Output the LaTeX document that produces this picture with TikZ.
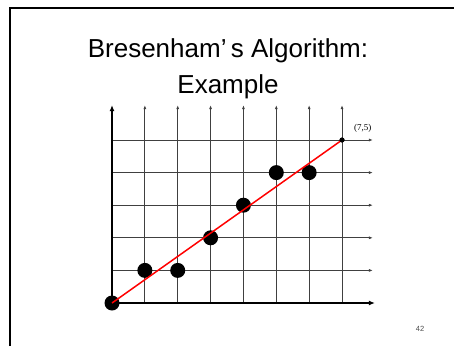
\documentclass[tikz,border=0pt]{standalone}
\usepackage{fontspec}
\setmainfont{Liberation Serif}
\setsansfont{Liberation Sans}
\usetikzlibrary{arrows.meta, positioning}

\begin{document}
\begin{tikzpicture}[
    x=1pt, y=1pt,
    gridline/.style={draw=black!75, line width=0.9pt, -{Latex[length=4pt, width=3pt]}},
    axisline/.style={draw=black, line width=1.6pt, -{Latex[length=6pt, width=5pt]}},
    pixel/.style={circle, fill=black, inner sep=0pt, minimum size=15pt},
    endpt/.style={circle, fill=black, inner sep=0pt, minimum size=5pt},
    ideal/.style={red, line width=1.5pt},
    heading/.style={font=\sffamily\fontsize{26}{30}\selectfont, anchor=base}
]
\useasboundingbox (0,0) rectangle (454,346);

% Frame
\draw[line width=2pt] (10,0) -- (10,337.5) -- (454,337.5);

% Title
\node[heading] (title) at (228,288) {Bresenham’\,s Algorithm:};
\node[heading] (subtitle) at (228,252) {Example};

\begin{scope}[shift={(112,43)}, x=32.86pt, y=32.6pt]
% Grid
\foreach \i in {1,...,7}
    \draw[gridline] (\i,0) -- (\i,6.07);
\foreach \j in {1,...,5}
    \draw[gridline] (0,\j) -- (7.94,\j);
\draw[axisline] (0,0) -- (0,6.07);
\draw[axisline] (0,0) -- (8.0,0);

% Nodes
\node[pixel] (p0) at (0,0) {};
\node[pixel] (p1) at (1,1) {};
\node[pixel] (p2) at (2,1) {};
\node[pixel] (p3) at (3,2) {};
\node[pixel] (p4) at (4,3) {};
\node[pixel] (p5) at (5,4) {};
\node[pixel] (p6) at (6,4) {};
\node[endpt] (end) at (7,5) {};
\node[font=\fontsize{9}{10}\selectfont, inner sep=0pt, above right=5pt and 10pt of end] (endlabel) {(7,5)};

% Line
\draw[ideal] (p0.center) -- (end.center);
\node[endpt] at (end) {};
\end{scope}

% Page number
\node[font=\sffamily\fontsize{7.5}{8}\selectfont, text=black!70] (page) at (420,17) {42};

\end{tikzpicture}
\end{document}
